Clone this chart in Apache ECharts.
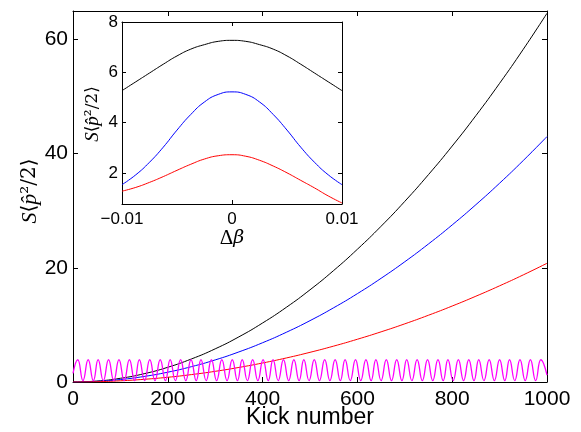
<!DOCTYPE html>
<html>
<head>
<meta charset="utf-8">
<script src="https://cdn.jsdelivr.net/npm/echarts@6/dist/echarts.min.js"></script>
<style>html,body{margin:0;padding:0;background:#fff}#c{width:581px;height:432px}</style>
</head>
<body>
<div id="c"></div>
<script>
// ---- main plot data ----
var kicks = [0,50,100,150,200,250,300,350,400,450,500,550,600,650,700,750,800,850,900,950,1000];
var blackMain = [0,0.16,0.65,1.45,2.58,4.04,5.81,7.91,10.34,13.08,16.15,19.54,23.26,27.29,31.65,36.34,41.34,46.67,52.33,58.30,64.6];
var blueMain  = [0,0.11,0.43,0.97,1.72,2.69,3.87,5.27,6.88,8.71,10.75,13.01,15.48,18.17,21.07,24.19,27.52,31.07,34.83,38.81,43.0];
var redMain   = [0,0.05,0.21,0.47,0.83,1.30,1.87,2.55,3.33,4.21,5.20,6.29,7.49,8.79,10.19,11.70,13.31,15.03,16.85,18.77,20.8];
var magentaKicks = [0,10,21,32,43,53,64,75,86,97,108,119,130,140,151,162,173,184,195,205,216,227,238,249,260,270,281,292,303,314,325,336,347,357,368,379,390,401,412,422,433,444,455,466,477,487,498,509,520,531,542,553,564,574,585,596,607,618,629,639,650,661,672,683,694,704,715,726,737,748,759,770,781,791,802,813,824,835,846,856,867,878,889,900,911,921,932,943,954,965,976,987,1000];
var magentaVals = [1.5,3.9,0.25,3.9,0.25,3.9,0.25,3.9,0.25,3.9,0.25,3.9,0.25,3.9,0.25,3.9,0.25,3.9,0.25,3.9,0.25,3.9,0.25,3.9,0.25,3.9,0.25,3.9,0.25,3.9,0.25,3.9,0.25,3.9,0.25,3.9,0.25,3.9,0.25,3.9,0.25,3.9,0.25,3.9,0.25,3.9,0.25,3.9,0.25,3.9,0.25,3.9,0.25,3.9,0.25,3.9,0.25,3.9,0.25,3.9,0.25,3.9,0.25,3.9,0.25,3.9,0.25,3.9,0.25,3.9,0.25,3.9,0.25,3.9,0.25,3.9,0.25,3.9,0.25,3.9,0.25,3.9,0.25,3.9,0.25,3.9,0.25,3.9,0.25,3.9,0.25,3.9,1.2];
var mainXTicks = [0,200,400,600,800,1000];
var mainYTicks = [0,20,40,60];

// ---- inset data ----
var dBeta = [-0.01,-0.00875,-0.0075,-0.00625,-0.005,-0.00375,-0.0025,-0.00125,0,0.00125,0.0025,0.00375,0.005,0.00625,0.0075,0.00875,0.01];
var blackInset = [5.27,5.62,5.97,6.32,6.65,6.92,7.10,7.23,7.27,7.23,7.10,6.92,6.65,6.32,5.97,5.62,5.27];
var blueInset  = [1.53,1.92,2.42,3.02,3.70,4.32,4.82,5.12,5.22,5.12,4.82,4.32,3.70,3.02,2.42,1.92,1.53];
var redInset   = [1.27,1.42,1.62,1.85,2.10,2.34,2.55,2.68,2.72,2.66,2.50,2.27,2.00,1.70,1.40,1.08,0.80];
var insetXTicks = [-0.01,0,0.01];
var insetYTicks = [2,4,6,8];

function pairs(xs, ys){ return xs.map(function(x,i){ return [x, ys[i]]; }); }

var FONT = 'Liberation Sans';
var chart = echarts.init(document.getElementById('c'), null, {renderer:'canvas'});

function axisCommon(extra){
  var base = {
    type:'value',
    axisLine:{show:true, onZero:false, lineStyle:{color:'#000', width:1}},
    splitLine:{show:false},
    axisTick:{show:true, inside:true, length:5, lineStyle:{color:'#000', width:1}},
    axisLabel:{color:'#000', fontFamily:FONT}
  };
  for (var k in extra) base[k] = extra[k];
  return base;
}
function plain(v){ return String(v); }

var option = {
  animation:false,
  backgroundColor:'#fff',
  grid:[
    {left:73, right:34, top:11, bottom:50, containLabel:false},
    {left:122, right:239, top:22, bottom:228, show:true, backgroundColor:'#fff', borderWidth:0, z:5}
  ],
  xAxis:[
    axisCommon({gridIndex:0, position:'bottom', min:0, max:1000, interval:200,
      axisLabel:{color:'#000', fontFamily:FONT, fontSize:21, margin:7, customValues:mainXTicks, formatter:plain},
      axisTick:{show:true, inside:true, length:5, customValues:mainXTicks, lineStyle:{color:'#000'}}}),
    axisCommon({gridIndex:0, position:'top', min:0, max:1000, interval:200,
      axisLabel:{show:false},
      axisTick:{show:true, inside:true, length:5, customValues:mainXTicks, lineStyle:{color:'#000'}}}),
    axisCommon({gridIndex:1, position:'bottom', min:-0.01, max:0.01, interval:0.01, z:6,
      axisLabel:{color:'#000', fontFamily:FONT, fontSize:17, margin:7, customValues:insetXTicks,
        formatter:function(v){ return v===0 ? '0' : (v<0 ? '\u2212' + String(Math.abs(v)) : String(v)); }},
      axisTick:{show:true, inside:true, length:4, customValues:insetXTicks, lineStyle:{color:'#000'}}}),
    axisCommon({gridIndex:1, position:'top', min:-0.01, max:0.01, interval:0.01, z:6,
      axisLabel:{show:false},
      axisTick:{show:true, inside:true, length:4, customValues:insetXTicks, lineStyle:{color:'#000'}}})
  ],
  yAxis:[
    axisCommon({gridIndex:0, position:'left', min:0, max:65,
      axisLabel:{color:'#000', fontFamily:FONT, fontSize:21, margin:5, customValues:mainYTicks, formatter:plain},
      axisTick:{show:true, inside:true, length:5, customValues:mainYTicks, lineStyle:{color:'#000'}}}),
    axisCommon({gridIndex:0, position:'right', min:0, max:65,
      axisLabel:{show:false},
      axisTick:{show:true, inside:true, length:5, customValues:mainYTicks, lineStyle:{color:'#000'}}}),
    axisCommon({gridIndex:1, position:'left', min:0.76, max:8, z:6,
      axisLabel:{color:'#000', fontFamily:FONT, fontSize:17, margin:4, customValues:insetYTicks, formatter:plain},
      axisTick:{show:true, inside:true, length:4, customValues:insetYTicks, lineStyle:{color:'#000'}}}),
    axisCommon({gridIndex:1, position:'right', min:0.76, max:8, z:6,
      axisLabel:{show:false},
      axisTick:{show:true, inside:true, length:4, customValues:insetYTicks, lineStyle:{color:'#000'}}})
  ],
  series:[
    {type:'line', xAxisIndex:0, yAxisIndex:0, data:pairs(kicks, blackMain), smooth:true, showSymbol:false, lineStyle:{color:'#000', width:1}, z:3},
    {type:'line', xAxisIndex:0, yAxisIndex:0, data:pairs(kicks, blueMain), smooth:true, showSymbol:false, lineStyle:{color:'#0000ff', width:1}, z:3},
    {type:'line', xAxisIndex:0, yAxisIndex:0, data:pairs(kicks, redMain), smooth:true, showSymbol:false, lineStyle:{color:'#ff0000', width:1}, z:3},
    {type:'line', xAxisIndex:0, yAxisIndex:0, data:pairs(magentaKicks, magentaVals), smooth:0.5, showSymbol:false, lineStyle:{color:'#ff00ff', width:1.3}, z:4},
    {type:'line', xAxisIndex:2, yAxisIndex:2, data:pairs(dBeta, blackInset), smooth:true, showSymbol:false, lineStyle:{color:'#000', width:1}, z:7},
    {type:'line', xAxisIndex:2, yAxisIndex:2, data:pairs(dBeta, blueInset), smooth:true, showSymbol:false, lineStyle:{color:'#0000ff', width:1}, z:7},
    {type:'line', xAxisIndex:2, yAxisIndex:2, data:pairs(dBeta, redInset), smooth:true, showSymbol:false, lineStyle:{color:'#ff0000', width:1}, z:7}
  ],
  graphic:[
    {type:'text', x:310, y:418, z:10, style:{text:'Kick number', fontFamily:FONT, fontSize:23, fill:'#000', textAlign:'center', textVerticalAlign:'middle'}},
    {type:'text', x:30, y:191, rotation:Math.PI/2, z:10, style:{
      text:'{i|S}\u27e8{i|p\u0302}\u00b2/2\u27e9', fill:'#000', textAlign:'center', textVerticalAlign:'middle',
      fontFamily:'DejaVu Serif', fontSize:20,
      rich:{i:{fontFamily:'Liberation Serif', fontStyle:'italic', fontSize:22, fill:'#000'}}}},
    {type:'text', x:93, y:114, rotation:Math.PI/2, z:10, style:{
      text:'{i|S}\u27e8{i|p\u0302}\u00b2/2\u27e9', fill:'#000', textAlign:'center', textVerticalAlign:'middle',
      fontFamily:'DejaVu Serif', fontSize:17,
      rich:{i:{fontFamily:'Liberation Serif', fontStyle:'italic', fontSize:19, fill:'#000'}}}},
    {type:'text', x:232, y:238, z:10, style:{
      text:'\u0394{i|\u03b2}', fill:'#000', textAlign:'center', textVerticalAlign:'middle',
      fontFamily:'Liberation Serif', fontSize:21,
      rich:{i:{fontFamily:'DejaVu Serif', fontStyle:'italic', fontSize:19, fill:'#000'}}}}
  ]
};
chart.setOption(option);
</script>
</body>
</html>
